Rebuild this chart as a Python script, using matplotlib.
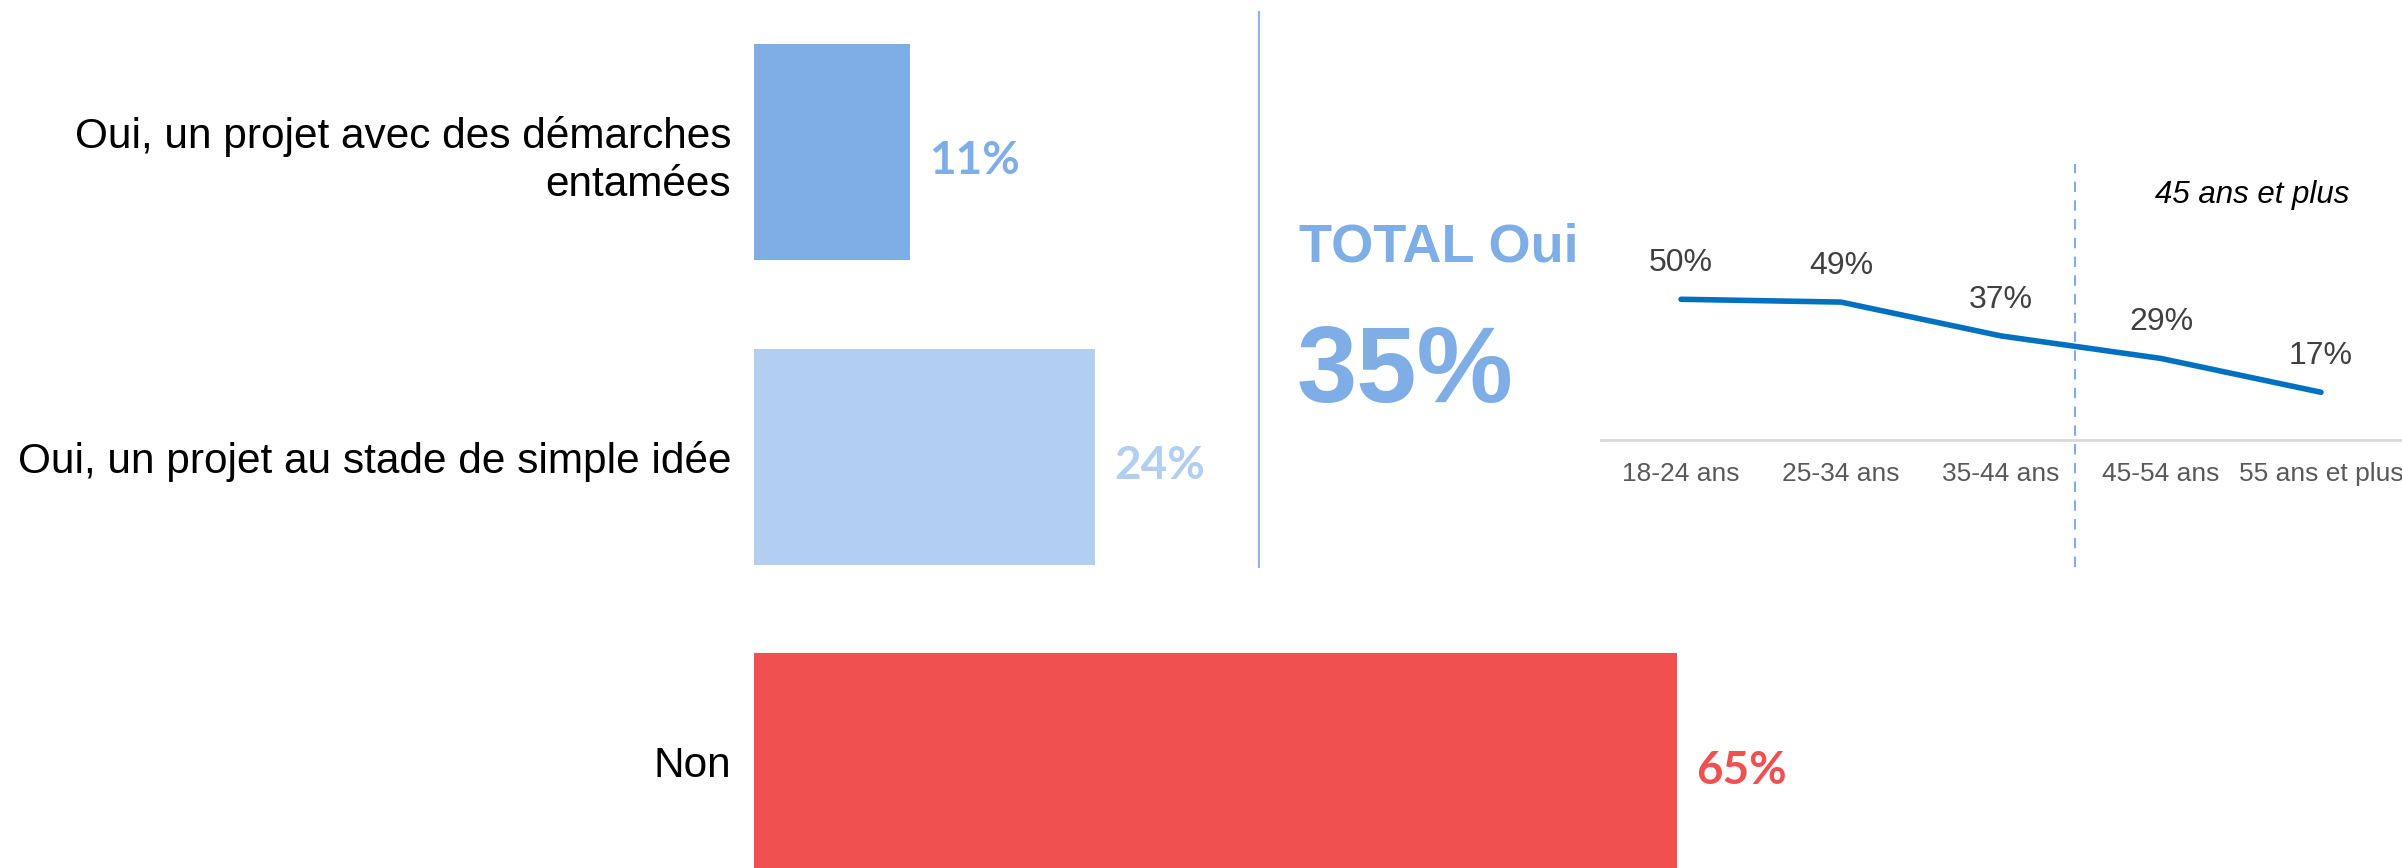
import numpy as np
import matplotlib.pyplot as plt

# données
reponses = ["Oui, un projet avec des démarches\nentamées",
            "Oui, un projet au stade de simple idée",
            "Non"]
valeurs = [11, 24, 65]
couleurs = ["#7FAEE6", "#B2CEF1", "#F05050"]

total_oui = 35

ages = ["18-24 ans", "25-34 ans", "35-44 ans", "45-54 ans", "55 ans et plus"]
oui_age = [50, 49, 37, 29, 17]

W, H = 2402, 868
fig = plt.figure(figsize=(W/100, H/100), dpi=100)
plt.rcParams['font.family'] = ['Liberation Sans', 'DejaVu Sans']

def px(x0, y0, x1, y1):
    # rectangle in pixels (from top-left) -> figure fraction
    return [x0/W, 1 - y1/H, (x1-x0)/W, (y1-y0)/H]

# barres horizontales
ax = fig.add_axes(px(754, 0, 1700, 868))
y = np.arange(len(reponses))
ax.barh(y, valeurs, height=0.71, color=couleurs)
ax.set_xlim(0, 946/14.2)
ax.set_ylim(2.35, -0.5)
ax.set_yticks(y, reponses, fontsize=30.5, linespacing=1.25)
ax.tick_params(axis='y', length=0, pad=16.5)
ax.set_xticks([])
for s in ax.spines.values():
    s.set_visible(False)
for i, v in enumerate(valeurs):
    ax.text(v + 1.34, i + 0.03, f"{v}%", va='center', ha='left', fontsize=33,
            fontweight='bold', color=couleurs[i], family=['Lato', 'DejaVu Sans'])

# séparateur
fig.add_artist(plt.Line2D([1259/W, 1259/W], [1 - 12/H, 1 - 567/H],
                          color="#8DB4E2", lw=1.5))

# total oui
fig.text(1299/W, 1 - 261/H, "TOTAL Oui", fontsize=39, fontweight='bold',
         color="#7FAEE6", va='baseline', ha='left')
fig.text(1297/W, 1 - 402/H, f"{total_oui}%", fontsize=78, fontweight='bold',
         color="#7FAEE6", va='baseline', ha='left')

# courbe par âge
ax2 = fig.add_axes(px(1601, 164, 2401, 567))
x = np.arange(len(ages))
ax2.plot(x, oui_age, color="#0070C0", lw=4, solid_capstyle='round')
ax2.set_xlim(-0.5, 4.5)
ax2.set_ylim(-45, 98)
for i, v in enumerate(oui_age):
    ax2.annotate(f"{v}%", (i, v), xytext=(0, 26), textcoords='offset points',
                 ha='center', va='center', fontsize=23, color="#404040")
ax2.axvline(2.46, color="#7FAEE6", lw=1.5, ls=(0, (5, 4)))
ax2.text(3.57, 87, "45 ans et plus", fontsize=22.5, style='italic',
         ha='center', va='center', color='black')
for s in ['top', 'left', 'right']:
    ax2.spines[s].set_visible(False)
ax2.spines['bottom'].set_position(('data', 0))
ax2.spines['bottom'].set_color("#D9D9D9")
ax2.spines['bottom'].set_linewidth(2)
ax2.set_xticks(x, ages, fontsize=19, color="#595959")
ax2.tick_params(axis='x', length=0, pad=16)
ax2.set_yticks([])
ax2.patch.set_alpha(0)

fig.savefig("out.png", dpi=100)
